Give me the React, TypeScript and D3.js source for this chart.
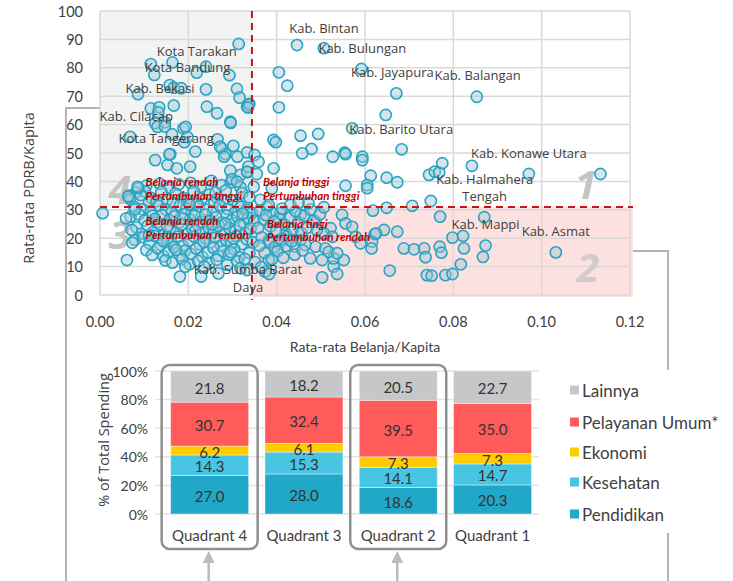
import React from "react";
import * as d3 from "d3";

// ---------- Scatter data ----------
const xTicks = [0, 0.02, 0.04, 0.06, 0.08, 0.1, 0.12];
const yTicks = [0, 10, 20, 30, 40, 50, 60, 70, 80, 90, 100];
const spendThreshold = 0.0344;
const growthThreshold = 31;

const upperLeftPoints: [number, number][] = [
  [0.0314, 88.4], [0.0115, 81.3], [0.0123, 77.5], [0.0164, 81.9], [0.0219, 78.3], [0.024, 80.4],
  [0.0293, 77.4], [0.031, 72.6], [0.0316, 69.5], [0.0333, 66.3], [0.0338, 67.3], [0.0086, 70.7],
  [0.0158, 73.9], [0.0167, 73.0], [0.0184, 72.8], [0.024, 72.4], [0.0115, 65.7], [0.0134, 66.1],
  [0.0132, 64.3], [0.0167, 66.7], [0.0242, 66.3], [0.0265, 64.0], [0.0295, 61.0], [0.0296, 60.6],
  [0.0125, 60.5], [0.013, 59.2], [0.0147, 60.8], [0.0147, 59.3], [0.0189, 58.7], [0.0194, 59.2],
  [0.0163, 56.6], [0.0191, 53.8], [0.0198, 55.6], [0.0068, 55.7], [0.0216, 50.5], [0.0159, 49.6],
  [0.0266, 54.8], [0.0276, 51.6], [0.0302, 52.5], [0.0333, 50.2], [0.0284, 49.6], [0.0281, 48.7],
  [0.0311, 48.7], [0.0125, 47.5], [0.0153, 45.8], [0.0174, 44.6], [0.0204, 45.2], [0.0157, 49.5],
  [0.0295, 43.8], [0.0318, 42.3], [0.0334, 43.2], [0.0299, 40.8], [0.031, 39.9], [0.0336, 45.2],
  [0.0085, 38.1], [0.0272, 52.2],
];

const upperRightPoints: [number, number][] = [
  [0.0446, 88.0], [0.0507, 86.9], [0.0405, 78.4], [0.0424, 73.7], [0.0592, 79.6], [0.0671, 71.0],
  [0.0647, 63.4], [0.0405, 66.1], [0.0337, 67.1], [0.0335, 66.0], [0.0571, 58.7], [0.0454, 56.1],
  [0.0494, 56.7], [0.0393, 54.6], [0.0398, 53.8], [0.0479, 51.4], [0.0683, 51.3], [0.0554, 50.1],
  [0.0527, 48.7], [0.0594, 48.7], [0.0556, 49.6], [0.0594, 47.5], [0.0458, 49.9], [0.035, 49.3],
  [0.0359, 46.9], [0.0393, 44.6], [0.0355, 42.6], [0.0333, 43.4], [0.0556, 38.5], [0.0348, 38.1],
  [0.0389, 37.5], [0.0431, 31.7], [0.045, 32.5], [0.0472, 32.3], [0.0507, 30.9], [0.0382, 31.7],
  [0.0363, 33.5], [0.0613, 42.0], [0.0649, 41.3], [0.0673, 39.7], [0.0605, 38.7], [0.0605, 37.6],
  [0.0745, 42.3], [0.0758, 43.4], [0.0768, 43.1], [0.0775, 46.4], [0.0842, 45.5], [0.0971, 42.6],
  [0.1133, 42.6], [0.0707, 31.4], [0.0649, 30.7], [0.0749, 33.1], [0.0853, 69.8],
];

const lowerRightPoints: [number, number][] = [
  [0.0408, 28.8], [0.0454, 28.2], [0.0488, 25.8], [0.0548, 28.2], [0.0556, 25.2], [0.0571, 24.0],
  [0.0522, 23.5], [0.0507, 21.7], [0.0526, 20.5], [0.0579, 20.5], [0.059, 18.2], [0.0442, 17.0],
  [0.0476, 12.9], [0.0503, 12.3], [0.0529, 10.0], [0.0537, 7.4], [0.0503, 6.2], [0.0529, 12.9],
  [0.0552, 12.3], [0.0454, 19.4], [0.0465, 17.6], [0.0488, 17.0], [0.051, 16.4], [0.0518, 15.2],
  [0.0537, 14.7], [0.042, 21.7], [0.0427, 19.4], [0.0405, 18.2], [0.0382, 19.4], [0.0382, 12.3],
  [0.0374, 8.2], [0.0383, 7.4], [0.0618, 29.7], [0.077, 27.6], [0.087, 27.4], [0.0643, 22.9],
  [0.0673, 22.3], [0.0622, 21.4], [0.0798, 20.2], [0.0822, 20.8], [0.0688, 16.4], [0.0711, 16.1],
  [0.0734, 16.4], [0.0769, 17.0], [0.0773, 14.9], [0.0737, 13.3], [0.0824, 16.4], [0.0873, 17.4],
  [0.0867, 13.4], [0.0817, 10.8], [0.0656, 8.6], [0.074, 7.0], [0.0751, 6.8], [0.0782, 7.0],
  [0.0798, 7.4], [0.1032, 15.0], [0.0616, 18.8], [0.0615, 16.4], [0.0625, 21.7],
  [0.0362, 29.8], [0.0371, 26.5], [0.0378, 31.0], [0.0386, 24.2], [0.0392, 28.7], [0.0399, 22.4],
  [0.0405, 26.9], [0.0412, 30.4], [0.0418, 24.8], [0.0424, 20.6], [0.0431, 27.3], [0.0437, 23.1],
  [0.0443, 29.5], [0.0449, 25.6], [0.0456, 21.8], [0.0463, 27.9], [0.047, 23.7], [0.0477, 30.1],
  [0.0484, 26.2], [0.0491, 22.9], [0.0498, 28.4], [0.0366, 20.3], [0.0383, 18.6], [0.0396, 16.9],
  [0.0409, 19.5], [0.0421, 17.2], [0.0434, 18.9], [0.0373, 14.8], [0.0389, 12.6], [0.0402, 15.4],
  [0.0415, 13.1], [0.0351, 11.6], [0.0365, 9.8], [0.0358, 23.6], [0.0376, 28.1], [0.0394, 25.9],
  [0.0361, 17.4], [0.0441, 14.2], [0.0459, 15.7],
];

const lowerLeftPoints: [number, number][] = [
  [0.0105, 38.5], [0.0135, 39.2], [0.0158, 37.8], [0.0178, 38.9], [0.0205, 39.5], [0.0228, 38.1],
  [0.0252, 40.2], [0.0275, 38.7], [0.0296, 39.6], [0.0318, 37.9], [0.0102, 36.4], [0.0081, 36.1],
  [0.0065, 35.0], [0.0068, 33.8], [0.0092, 35.2], [0.0117, 34.1], [0.0139, 36.3], [0.0152, 33.5],
  [0.0171, 35.7], [0.0189, 34.2], [0.0212, 36.5], [0.0231, 33.9], [0.0248, 35.4], [0.0266, 34.0],
  [0.0285, 36.8], [0.0301, 33.3], [0.0322, 35.9], [0.0338, 34.4], [0.0111, 32.6], [0.0128, 33.0],
  [0.0165, 32.4], [0.0198, 33.1], [0.0219, 32.2], [0.0259, 32.7], [0.0279, 33.4], [0.0312, 32.1],
  [0.0078, 31.0], [0.0096, 30.2], [0.0115, 29.5], [0.0133, 31.4], [0.0149, 30.1], [0.0162, 29.2],
  [0.0181, 31.6], [0.0195, 30.4], [0.0208, 29.1], [0.0224, 31.2], [0.0241, 30.0], [0.0256, 29.4],
  [0.0271, 31.5], [0.0289, 30.3], [0.0305, 29.0], [0.0319, 31.1], [0.0333, 30.0], [0.0344, 28.9],
  [0.0069, 27.6], [0.0088, 28.4], [0.0101, 26.2], [0.0119, 27.9], [0.0128, 25.5], [0.0141, 28.1],
  [0.0157, 26.4], [0.0169, 27.7], [0.0178, 25.3], [0.0192, 28.6], [0.0204, 26.6], [0.0215, 27.9],
  [0.0229, 25.8], [0.0238, 28.3], [0.0251, 26.1], [0.0263, 27.4], [0.0276, 25.6], [0.0287, 28.0],
  [0.0298, 26.3], [0.0311, 27.5], [0.0326, 25.4], [0.0336, 27.2], [0.0349, 26.0], [0.0083, 23.8],
  [0.0094, 21.6], [0.0108, 24.4], [0.0121, 22.3], [0.0136, 24.9], [0.0146, 21.2], [0.0159, 23.6],
  [0.0173, 22.0], [0.0184, 24.7], [0.0197, 21.5], [0.0209, 23.2], [0.0221, 24.8], [0.0233, 21.9],
  [0.0246, 23.7], [0.0258, 22.1], [0.0269, 24.3], [0.0282, 21.4], [0.0293, 23.5], [0.0307, 22.6],
  [0.0316, 24.6], [0.0329, 21.8], [0.0341, 23.4], [0.0079, 19.4], [0.0098, 20.3], [0.0112, 18.2],
  [0.0124, 20.8], [0.0138, 17.6], [0.0151, 19.7], [0.0163, 18.0], [0.0176, 20.5], [0.0187, 17.3],
  [0.0201, 19.1], [0.0213, 20.6], [0.0226, 17.8], [0.0239, 19.9], [0.0249, 18.4], [0.0262, 20.2],
  [0.0274, 17.5], [0.0286, 19.3], [0.0297, 18.1], [0.0309, 20.7], [0.0321, 17.9], [0.0332, 19.6],
  [0.0346, 18.6], [0.0105, 15.8], [0.0118, 14.1], [0.0131, 16.4], [0.0144, 13.6], [0.0155, 15.2],
  [0.0168, 16.8], [0.0181, 13.9], [0.0193, 15.6], [0.0206, 14.4], [0.0218, 16.3], [0.0232, 13.4],
  [0.0244, 15.0], [0.0257, 16.6], [0.0268, 13.8], [0.0279, 15.4], [0.0292, 14.2], [0.0304, 16.1],
  [0.0315, 13.3], [0.0338, 14.8], [0.0148, 12.2], [0.0164, 11.4], [0.0186, 12.6], [0.0203, 10.8],
  [0.0222, 12.0], [0.0247, 11.1], [0.0264, 12.4], [0.0288, 10.6], [0.0311, 11.9], [0.0181, 6.5],
  [0.0193, 10.0], [0.0229, 6.5], [0.0236, 10.0], [0.0268, 7.6], [0.0318, 9.4], [0.0333, 8.8],
  [0.0061, 12.3], [0.0073, 18.4], [0.0006, 28.8], [0.0059, 27.0], [0.0072, 22.9], [0.0079, 30.2],
  [0.0064, 34.6], [0.0087, 37.6], [0.0125, 26.8], [0.0152, 24.1], [0.0187, 26.9], [0.0216, 22.7],
  [0.0254, 24.9], [0.0284, 25.2], [0.0302, 19.9], [0.0323, 28.6], [0.0143, 19.0], [0.0172, 15.9],
  [0.0235, 18.7], [0.0296, 15.1], [0.0328, 12.7], [0.0111, 21.0], [0.0203, 31.9], [0.0262, 36.1],
];

const pointLabels: { text: string; x: number; y: number }[] = [
  { text: "Kota Tarakan", x: 0.0219, y: 86.0 },
  { text: "Kota Bandung", x: 0.0198, y: 80.4 },
  { text: "Kab. Bekasi", x: 0.0136, y: 72.8 },
  { text: "Kab. Cilacap", x: 0.0082, y: 63.0 },
  { text: "Kota Tangerang", x: 0.015, y: 55.2 },
  { text: "Kab. Bintan", x: 0.0507, y: 94.1 },
  { text: "Kab. Bulungan", x: 0.0594, y: 87.1 },
  { text: "Kab. Jayapura", x: 0.0662, y: 78.6 },
  { text: "Kab. Balangan", x: 0.0855, y: 77.5 },
  { text: "Kab. Barito Utara", x: 0.0682, y: 58.4 },
  { text: "Kab. Konawe Utara", x: 0.0971, y: 50.1 },
  { text: "Kab. Halmahera", x: 0.0871, y: 40.8 },
  { text: "Tengah", x: 0.0871, y: 35.0 },
  { text: "Kab. Mappi", x: 0.0873, y: 25.0 },
  { text: "Kab. Asmat", x: 0.1032, y: 22.6 },
  { text: "Kab. Sumba Barat", x: 0.0335, y: 9.0 },
  { text: "Daya", x: 0.0335, y: 2.9 },
];

const quadrantNotes = [
  { lines: ["Belanja rendah", "Pertumbuhan tinggi"], x: 0.0103, y: 40.0 },
  { lines: ["Belanja tinggi", "Pertumbuhan tinggi"], x: 0.0369, y: 40.0 },
  { lines: ["Belanja rendah", "Pertumbuhan rendah"], x: 0.0103, y: 26.3 },
  { lines: ["Belanja tingi", "Pertumbuhan rendah"], x: 0.0378, y: 25.5 },
];

const quadrantNumbers = [
  { n: "4", x: 0.0045, y: 37.5 },
  { n: "3", x: 0.0045, y: 21.6 },
  { n: "1", x: 0.11, y: 39.3 },
  { n: "2", x: 0.1105, y: 10.1 },
];

// ---------- Bar data ----------
const quadrants = ["Quadrant 4", "Quadrant 3", "Quadrant 2", "Quadrant 1"];
const pendidikan = [27.0, 28.0, 18.6, 20.3];
const kesehatan = [14.3, 15.3, 14.1, 14.7];
const ekonomi = [6.2, 6.1, 7.3, 7.3];
const pelayananUmum = [30.7, 32.4, 39.5, 35.0];
const lainnya = [21.8, 18.2, 20.5, 22.7];
const seriesNames = ["Pendidikan", "Kesehatan", "Ekonomi", "Pelayanan Umum*", "Lainnya"];
const seriesColors = ["#21a8c8", "#48c5e3", "#ffcc00", "#ff5b5b", "#c6c7c9"];
const pctTicks = [0, 20, 40, 60, 80, 100];
const highlighted = ["Quadrant 4", "Quadrant 2"];

const TEXT = "#404040";

export default function App() {
  const x = d3.scaleLinear().domain([0, 0.12]).range([100, 630]);
  const y = d3.scaleLinear().domain([0, 100]).range([295, 11]);
  const allPoints = [...lowerLeftPoints, ...lowerRightPoints, ...upperLeftPoints, ...upperRightPoints];

  const bx = d3.scaleBand().domain(quadrants).range([162.5, 539.7]).paddingInner(0.173).paddingOuter(0.0865);
  const by = d3.scaleLinear().domain([0, 100]).range([514, 371]);
  const table = quadrants.map((q, i) => ({
    q,
    Pendidikan: pendidikan[i],
    Kesehatan: kesehatan[i],
    Ekonomi: ekonomi[i],
    "Pelayanan Umum*": pelayananUmum[i],
    Lainnya: lainnya[i],
  }));
  const stacked = d3.stack<any>().keys(seriesNames)(table);

  const xt = x(spendThreshold);
  const yt = y(growthThreshold);

  return (
    <svg width={733} height={581} style={{ position: "absolute", left: 0, top: 0, background: "#fff" }}>
      {/* frame brackets */}
      <g stroke="#b4b4b4" strokeWidth={2} fill="none">
        <polyline points={`100,108 66,108 66,581`} />
        <polyline points={`633,251 668,251 668,370`} />
        <line x1={668} y1={533} x2={668} y2={581} />
      </g>

      {/* quadrant backgrounds */}
      <rect x={x(0)} y={y(100)} width={xt - x(0)} height={yt - y(100)} fill="#f2f4f4" />
      <rect x={xt} y={yt} width={633 - xt} height={297 - yt} fill="#fde0e0" />

      {/* grid */}
      <g stroke="#d9d9d9" strokeWidth={1.5}>
        {xTicks.map((t) => (
          <line key={"gx" + t} x1={x(t)} x2={x(t)} y1={y(0)} y2={y(100)} />
        ))}
        {yTicks.map((t) => (
          <line key={"gy" + t} x1={x(0)} x2={x(0.12)} y1={y(t)} y2={y(t)} />
        ))}
      </g>

      {/* axis tick labels */}
      <g fontFamily="Lato, sans-serif" fontSize={14.5} fill={TEXT}>
        {yTicks.map((t) => (
          <text key={"ty" + t} x={83} y={y(t)} textAnchor="end" dominantBaseline="central">
            {t}
          </text>
        ))}
        {xTicks.map((t) => (
          <text key={"tx" + t} x={x(t)} y={321} textAnchor="middle" dominantBaseline="central">
            {t.toFixed(2)}
          </text>
        ))}
        <text x={365} y={346} textAnchor="middle" dominantBaseline="central" fontSize={14}>
          Rata-rata Belanja/Kapita
        </text>
      </g>
      <text
        transform={`translate(28,188) rotate(-90)`}
        textAnchor="middle"
        dominantBaseline="central"
        fontFamily="'Open Sans', sans-serif"
        fontSize={14.5}
        fill={TEXT}
      >
        Rata-rata PDRB/Kapita
      </text>

      {/* quadrant big numbers */}
      <g fontFamily="'Open Sans', sans-serif" fontWeight={700} fontStyle="italic" fontSize={40} fill="#c4c4c4">
        {quadrantNumbers.map((d) => (
          <text key={d.n} x={x(d.x)} y={y(d.y)} textAnchor="middle" dominantBaseline="central" opacity={d.n === "2" ? 0.75 : 1}>
            {d.n}
          </text>
        ))}
      </g>

      {/* points */}
      <g>
        {allPoints.map((p, i) => (
          <circle
            key={i}
            cx={x(p[0])}
            cy={y(p[1])}
            r={5.6}
            fill="rgba(160,200,212,0.45)"
            stroke="#28a4c4"
            strokeWidth={1.6}
          />
        ))}
      </g>

      {/* threshold lines */}
      <g stroke="#c81414" strokeWidth={2} strokeDasharray="7,5" fill="none">
        <line x1={xt} x2={xt} y1={y(100)} y2={300} />
        <line x1={x(0)} x2={633} y1={yt} y2={yt} />
      </g>

      {/* quadrant notes */}
      <g fontFamily="Lato, sans-serif" fontWeight={700} fontStyle="italic" fontSize={11.5} fill="#c00000">
        {quadrantNotes.map((d, i) => (
          <text key={i} x={x(d.x)} y={y(d.y)} dominantBaseline="central">
            <tspan x={x(d.x)} dy={0}>{d.lines[0]}</tspan>
            <tspan x={x(d.x)} dy={13.5}>{d.lines[1]}</tspan>
          </text>
        ))}
      </g>

      {/* point labels */}
      <g fontFamily="'Open Sans', sans-serif" fontSize={13} fill={TEXT}>
        {pointLabels.map((d, i) => (
          <text key={i} x={x(d.x)} y={y(d.y)} textAnchor="middle" dominantBaseline="central">
            {d.text}
          </text>
        ))}
      </g>

      {/* ---------- bar chart ---------- */}
      <g stroke="#e3e3e3" strokeWidth={1.5}>
        {pctTicks.map((t) => (
          <line key={"bg" + t} x1={155} x2={539} y1={by(t)} y2={by(t)} />
        ))}
      </g>
      <g fontFamily="Lato, sans-serif" fontSize={14} fill={TEXT}>
        {pctTicks.map((t) => (
          <text key={"bt" + t} x={148} y={by(t)} textAnchor="end" dominantBaseline="central">
            {t + "%"}
          </text>
        ))}
      </g>
      <text
        transform={`translate(103,440) rotate(-90)`}
        textAnchor="middle"
        dominantBaseline="central"
        fontFamily="'Open Sans', sans-serif"
        fontSize={14.5}
        fill={TEXT}
      >
        % of Total Spending
      </text>

      {stacked.map((s, si) => (
        <g key={s.key} fill={seriesColors[si]}>
          {s.map((d, i) => (
            <rect
              key={i}
              x={bx(quadrants[i])}
              width={bx.bandwidth()}
              y={by(d[1])}
              height={by(d[0]) - by(d[1])}
              stroke="#ffffff"
              strokeOpacity={0.5}
              strokeWidth={0.8}
            />
          ))}
        </g>
      ))}
      <g fontFamily="Lato, sans-serif" fontSize={15} fill="#333">
        {stacked.map((s) =>
          s.map((d, i) => (
            <text
              key={s.key + i}
              x={(bx(quadrants[i]) as number) + bx.bandwidth() / 2}
              y={(by(d[0]) + by(d[1])) / 2 + 1}
              textAnchor="middle"
              dominantBaseline="central"
            >
              {(d[1] - d[0]).toFixed(1)}
            </text>
          ))
        )}
      </g>
      <g fontFamily="Lato, sans-serif" fontSize={15} fill={TEXT}>
        {quadrants.map((q) => (
          <text key={q} x={(bx(q) as number) + bx.bandwidth() / 2} y={535} textAnchor="middle" dominantBaseline="central">
            {q}
          </text>
        ))}
      </g>

      {/* highlight boxes + arrows */}
      {highlighted.map((q) => {
        const cx = (bx(q) as number) + bx.bandwidth() / 2;
        return (
          <g key={"h" + q}>
            <rect x={cx - 48} y={365} width={96} height={184} rx={8} fill="none" stroke="#8f8f8f" strokeWidth={2.5} />
            <line x1={cx - 1} x2={cx - 1} y1={562} y2={581} stroke="#bcbcbc" strokeWidth={2.5} />
            <path d={`M${cx - 1},551 L${cx - 7},563 L${cx + 5},563 Z`} fill="#bcbcbc" />
          </g>
        );
      })}

      {/* legend */}
      <g fontFamily="Lato, sans-serif" fontSize={17} fill={TEXT}>
        {[...seriesNames].reverse().map((name, i) => {
          const ci = seriesNames.indexOf(name);
          const ly = [390, 422, 452, 482, 514][i];
          return (
            <g key={name}>
              <rect x={570} y={ly - 4.5} width={9} height={9} fill={seriesColors[ci]} />
              <text x={582} y={ly} dominantBaseline="central">
                {name}
              </text>
            </g>
          );
        })}
      </g>
    </svg>
  );
}
